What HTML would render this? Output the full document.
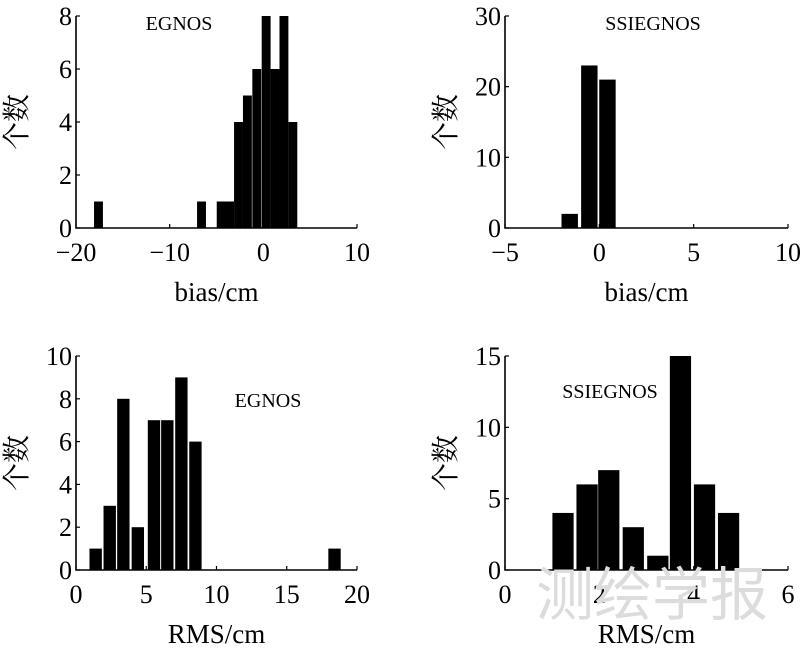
<!DOCTYPE html>
<html><head><meta charset="utf-8"><style>
body{margin:0;background:#fff;width:800px;height:652px;overflow:hidden}
svg{display:block}
svg text{font-family:"Liberation Serif","Times New Roman","Noto Serif CJK SC",serif;fill:#000}
</style></head><body>
<svg id="fig" width="800" height="652" viewBox="0 0 800 652">
<text x="652" y="615" font-size="58" style="fill:#dcdcdc;font-family:'Noto Sans CJK SC',sans-serif" text-anchor="middle">测绘学报</text>
</svg>
<script>
// Panel A: EGNOS bias
const aCenters=[-17.6,-6.6,-4.5,-3.6,-2.65,-1.7,-0.7,0.3,1.25,2.2,3.15];
const aCounts=[1,1,1,1,4,5,6,8,6,8,4];
const aXTicks=[-20,-10,0,10];
const aYTicks=[0,2,4,6,8];
// Panel B: SSIEGNOS bias
const bCenters=[-1.57,-0.53,0.43];
const bCounts=[2,23,21];
const bXTicks=[-5,0,5,10];
const bYTicks=[0,10,20,30];
// Panel C: EGNOS RMS
const cCenters=[1.4,2.4,3.37,4.4,5.55,6.5,7.5,8.5,18.4];
const cCounts=[1,3,8,2,7,7,9,6,1];
const cXTicks=[0,5,10,15,20];
const cYTicks=[0,2,4,6,8,10];
// Panel D: SSIEGNOS RMS
const dCenters=[1.23,1.74,2.2,2.72,3.24,3.72,4.23,4.74];
const dCounts=[4,6,7,3,1,15,6,4];
const dXTicks=[0,2,4,6];
const dYTicks=[0,5,10,15];

const NS="http://www.w3.org/2000/svg";
const svg=document.getElementById('fig');
const FF='"Liberation Serif", "Times New Roman", "Noto Serif CJK SC", serif';
function mk(tag,attrs,parent){const e=document.createElementNS(NS,tag);for(const k in attrs)e.setAttribute(k,attrs[k]);if(tag==='text')e.setAttribute('font-family',FF);(parent||svg).appendChild(e);return e;}
function panel(name,box,xr,yr,centers,counts,bw,xt,yt,xlabel,title,tpos){
  const g=mk('g',{});
  
  
  const sx=v=>box.x0+(v-xr[0])/(xr[1]-xr[0])*(box.x1-box.x0);
  const sy=v=>box.y0-(v-yr[0])/(yr[1]-yr[0])*(box.y0-box.y1);
  centers.forEach((c,i)=>{
    const x0=sx(c-bw/2),x1=sx(c+bw/2),y=sy(counts[i]);
    const r=mk('rect',{x:x0,y:y,width:x1-x0,height:sy(0)-y,fill:'#000'},g);
    
    
  });
  const ax=mk('path',{d:`M${box.x0},${box.y1}V${box.y0}H${box.x1}`,stroke:'#000','stroke-width':1.6,fill:'none'},g);
  
  
  xt.forEach(v=>{
    const x=sx(v);
    mk('line',{x1:x,x2:x,y1:box.y0,y2:box.y0-4,stroke:'#000','stroke-width':1.2},g);
    const t=mk('text',{x:x,y:box.y0+33,'font-size':26,'text-anchor':'middle'},g);
    t.textContent=v<0?'\u2212'+Math.abs(v):String(v);
    
    
  });
  yt.forEach(v=>{
    const y=sy(v);
    mk('line',{x1:box.x0,x2:box.x0+4,y1:y,y2:y,stroke:'#000','stroke-width':1.2},g);
    const t=mk('text',{x:box.x0-4,y:y+9,'font-size':26,'text-anchor':'end'},g);
    t.textContent=String(v);
    
    
  });
  const xl=mk('text',{x:(box.x0+box.x1)/2,y:box.y0+73,'font-size':27,'text-anchor':'middle'},g);
  xl.textContent=xlabel;
  
  
  const yx=box.x0-50, yy=(box.y0+box.y1)/2;
  const yl=mk('text',{x:yx,y:yy,'font-size':28,'text-anchor':'middle',transform:`rotate(-90 ${yx} ${yy})`},g);
  yl.textContent='个数';
  
  
  const tt=mk('text',{x:tpos[0],y:tpos[1],'font-size':20,'text-anchor':'middle'},g);
  tt.textContent=title;
  
  
}
panel('panel-egnos-bias',{x0:76,x1:357,y0:228,y1:16},[-20,10],[0,8],aCenters,aCounts,0.95,aXTicks,aYTicks,'bias/cm','EGNOS',[179,30]);
panel('panel-ssiegnos-bias',{x0:505,x1:788,y0:228,y1:16},[-5,10],[0,30],bCenters,bCounts,0.87,bXTicks,bYTicks,'bias/cm','SSIEGNOS',[653,30]);
panel('panel-egnos-rms',{x0:76,x1:357,y0:570,y1:356},[0,20],[0,10],cCenters,cCounts,0.88,cXTicks,cYTicks,'RMS/cm','EGNOS',[268,407]);
panel('panel-ssiegnos-rms',{x0:505,x1:788,y0:570,y1:356},[0,6],[0,15],dCenters,dCounts,0.45,dXTicks,dYTicks,'RMS/cm','SSIEGNOS',[610,398]);
svg.appendChild(svg.firstElementChild);
</script>
</body></html>
